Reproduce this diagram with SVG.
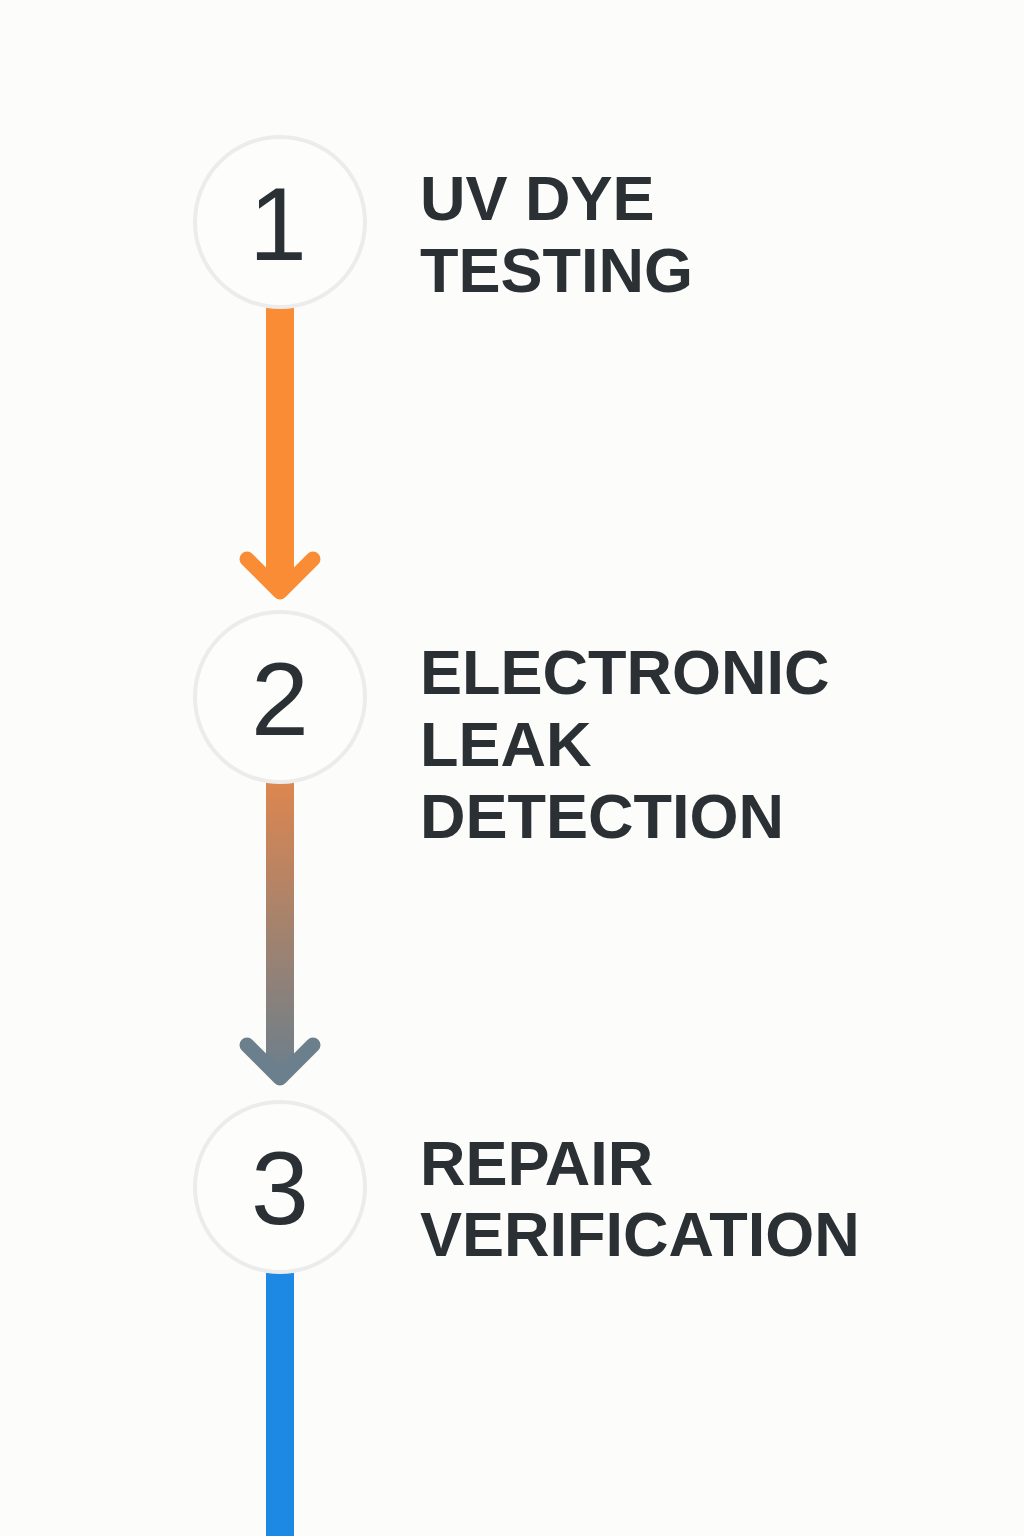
<svg xmlns="http://www.w3.org/2000/svg" width="1024" height="1536" viewBox="0 0 1024 1536">
<style>
.c{fill:#fdfdfc;stroke:#ececec;stroke-width:4}
.n{font-family:"Liberation Sans",Arial,sans-serif;font-size:104px;fill:#2b3035;text-anchor:middle}
.t{font-family:"Liberation Sans",Arial,sans-serif;font-weight:bold;font-size:63px;fill:#2b3035}
.h{fill:none;stroke-width:15;stroke-linecap:round;stroke-linejoin:round}
</style>
<defs>
<linearGradient id="g" x1="0" y1="785" x2="0" y2="1075" gradientUnits="userSpaceOnUse">
<stop offset="0" stop-color="#dc8650"/><stop offset="1" stop-color="#6b7f8c"/>
</linearGradient>
</defs>
<rect width="1024" height="1536" fill="#fcfcfa"/>
<g id="connectors">
<rect x="266" y="305" width="28" height="280" fill="#f98c35"/>
<path class="h" stroke="#f98c35" d="M247,559 L280,592 L313,559"/>
<rect x="266" y="780" width="28" height="290" fill="url(#g)"/>
<path class="h" stroke="#6b7f8c" d="M247,1045 L280,1078 L313,1045"/>
<rect x="266" y="1270" width="28" height="266" fill="#1e88e5"/>
</g>
<g id="step1"><circle class="c" cx="280" cy="222" r="85"/><text class="n" x="278" y="260">1</text>
<text class="t" x="420" y="220">UV DYE</text><text class="t" x="420" y="292">TESTING</text></g>
<g id="step2"><circle class="c" cx="280" cy="697" r="85"/><text class="n" x="280" y="735">2</text>
<text class="t" x="420" y="694">ELECTRONIC</text><text class="t" x="420" y="766">LEAK</text><text class="t" x="420" y="838">DETECTION</text></g>
<g id="step3"><circle class="c" cx="280" cy="1187" r="85"/><text class="n" x="280" y="1224">3</text>
<text class="t" x="420" y="1185">REPAIR</text><text class="t" x="420" y="1256">VERIFICATION</text></g>
</svg>
